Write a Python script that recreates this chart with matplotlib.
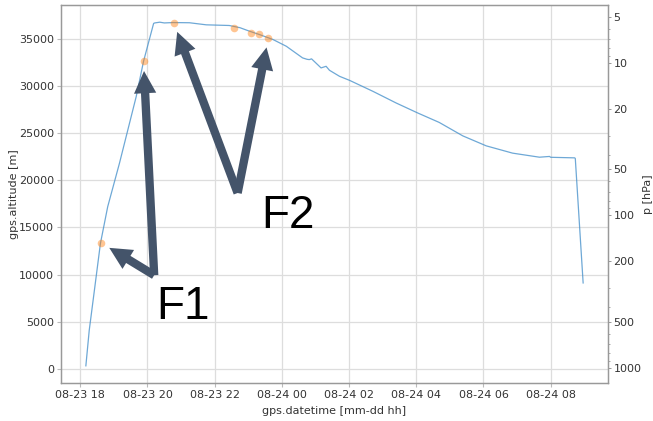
import matplotlib
matplotlib.use("Agg")
import matplotlib.pyplot as plt
import matplotlib.dates as mdates
import matplotlib.ticker as mticker
import numpy as np
import pandas as pd

# ---------------- data ----------------
flight_times = [
    "2019-08-23 18:10", "2019-08-23 18:16", "2019-08-23 18:26", "2019-08-23 18:36",
    "2019-08-23 18:49", "2019-08-23 19:10", "2019-08-23 19:40", "2019-08-23 19:53",
    "2019-08-23 20:11", "2019-08-23 20:13", "2019-08-23 20:22", "2019-08-23 20:30",
    "2019-08-23 20:46", "2019-08-23 21:15", "2019-08-23 21:45", "2019-08-23 22:26",
    "2019-08-23 22:45", "2019-08-23 23:02", "2019-08-23 23:20", "2019-08-23 23:44",
    "2019-08-24 00:08", "2019-08-24 00:37", "2019-08-24 00:45", "2019-08-24 00:49",
    "2019-08-24 00:53", "2019-08-24 01:10", "2019-08-24 01:19", "2019-08-24 01:25",
    "2019-08-24 01:43", "2019-08-24 02:01", "2019-08-24 02:43", "2019-08-24 03:24",
    "2019-08-24 04:03", "2019-08-24 04:41", "2019-08-24 05:23", "2019-08-24 06:05",
    "2019-08-24 06:52", "2019-08-24 07:40", "2019-08-24 07:58", "2019-08-24 08:00",
    "2019-08-24 08:43", "2019-08-24 08:44", "2019-08-24 08:58",
]
flight_alt = [
    360, 4110, 8700, 13310,
    17200, 21800, 28880, 32590,
    36600, 36650, 36730, 36650,
    36690, 36670, 36450, 36380,
    36150, 35780, 35420, 34900,
    34180, 32950, 32800, 32770,
    32850, 31890, 32060, 31640,
    31000, 30570, 29400, 28180,
    27110, 26120, 24700, 23640,
    22870, 22440, 22520, 22430,
    22370, 22300, 9130,
]

event_times = ["2019-08-23 18:37", "2019-08-23 19:53", "2019-08-23 20:47",
               "2019-08-23 22:34", "2019-08-23 23:05", "2019-08-23 23:20",
               "2019-08-23 23:36"]
event_alt = [13380, 32590, 36670, 36140, 35600, 35500, 35070]

pressure_ticks = [5, 10, 20, 50, 100, 200, 500, 1000]
pressure_ticklabels = ["5", "10", "20", "50", "100", "200", "500", "1000"]

# scale-height mapping altitude -> pressure used for the right axis
P0, Z0, H = 1000.0, 150.0, 7010.0

# annotation layout: label, label position, arrow start, indices of targeted events
annotations = [
    ("F1", ("2019-08-23 20:16", 5350), ("2019-08-23 20:12", 9950), [0, 1]),
    ("F2", ("2019-08-23 23:24", 14900), ("2019-08-23 22:41", 18650), [2, 6]),
]

# ---------------- plotting ----------------
t = pd.to_datetime(flight_times)
te = pd.to_datetime(event_times)

fig = plt.figure(figsize=(6.53, 4.21), dpi=100)
ax = fig.add_axes([61 / 653, 1 - 383 / 421, (608 - 61) / 653, (383 - 5) / 421])

ax.plot(t, flight_alt, color="#4a93cc", alpha=0.8, lw=0.9, zorder=3)
ax.scatter(te, event_alt, s=30, color="tab:orange", alpha=0.45, lw=0, zorder=4)

ax.grid(True, color="#dddddd", lw=0.9)
ax.set_axisbelow(True)
for sp in ax.spines.values():
    sp.set_color("#999999")
    sp.set_linewidth(0.9)

ax.xaxis.set_major_locator(mdates.HourLocator(byhour=range(0, 24, 2)))
ax.xaxis.set_major_formatter(mdates.DateFormatter("%m-%d %H"))
ax.tick_params(axis="both", labelsize=8, colors="#333333", length=3, width=0.8,
               pad=2)
ax.tick_params(axis="both", color="#bbbbbb")
ax.set_xlabel("gps.datetime [mm-dd hh]", fontsize=8, color="#333333", labelpad=4)
ax.set_ylabel("gps.altitude [m]", fontsize=8, color="#333333", labelpad=0)

# right axis: pressure (log, inverted through the altitude mapping)
ax2 = ax.twinx()
ax2.set_yscale("log")
zlo, zhi = ax.get_ylim()
ax2.set_ylim(P0 * np.exp(-(zlo - Z0) / H), P0 * np.exp(-(zhi - Z0) / H))
ax2.yaxis.set_major_locator(mticker.FixedLocator(pressure_ticks))
ax2.yaxis.set_major_formatter(mticker.FixedFormatter(pressure_ticklabels))
ax2.yaxis.set_minor_locator(mticker.LogLocator(base=10, subs=(2, 3, 4, 5, 6, 7, 8, 9)))
ax2.yaxis.set_minor_formatter(mticker.NullFormatter())
ax2.tick_params(axis="y", which="major", labelsize=8, colors="#333333", length=2.5,
                width=0.6, pad=1.5)
ax2.tick_params(axis="y", which="minor", length=1.5, width=0.5)
ax2.tick_params(axis="y", which="both", color="#888888")
for sp in ax2.spines.values():
    sp.set_color("#999999")
    sp.set_linewidth(0.9)
ax2.set_ylabel("p [hPa]", fontsize=8, color="#333333", labelpad=1)

# annotations (arrows + labels)
arrow_color = "#44546A"
for label, lpos, start, idxs in annotations:
    ax.text(pd.Timestamp(lpos[0]), lpos[1], label, fontsize=33,
            family="Liberation Sans", color="black", ha="left", va="baseline",
            zorder=6)
    for i in idxs:
        ax.annotate("", xy=(te[i], event_alt[i]), xytext=(pd.Timestamp(start[0]), start[1]),
                    arrowprops=dict(arrowstyle="simple,head_width=16,head_length=16,tail_width=6",
                                    mutation_scale=1, color=arrow_color, lw=0,
                                    shrinkA=0, shrinkB=7),
                    zorder=5)

fig.savefig("out.png", dpi=100)
